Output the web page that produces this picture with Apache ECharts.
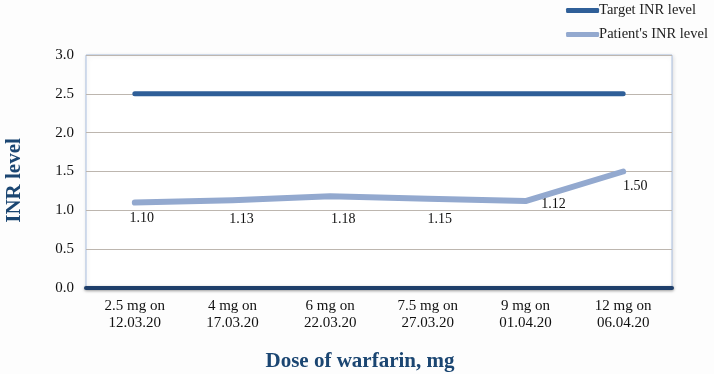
<!DOCTYPE html>
<html>
<head>
<meta charset="utf-8">
<script src="https://cdn.jsdelivr.net/npm/echarts@6/dist/echarts.min.js"></script>
<style>html,body{margin:0;padding:0;background:#fdfdfd}#c{width:714px;height:374px}</style>
</head>
<body>
<div id="c"></div>
<script>
const categories = ['2.5 mg on\n12.03.20','4 mg on\n17.03.20','6 mg on\n22.03.20','7.5 mg on\n27.03.20','9 mg on\n01.04.20','12 mg on\n06.04.20'];
const targetINR = [2.5, 2.5, 2.5, 2.5, 2.5, 2.5];
const patientINR = [1.10, 1.13, 1.18, 1.15, 1.12, 1.50];
const yTicks = [0, 0.5, 1.0, 1.5, 2.0, 2.5, 3.0];
const labelOffsets = [[7, 2], [9, 5], [13, 9], [12, 7], [28, -11], [12, 1]];

const serif = '"Liberation Serif", "DejaVu Serif", serif';
const chart = echarts.init(document.getElementById('c'));
chart.setOption({
  backgroundColor: '#fdfdfd',
  animation: false,
  textStyle: { fontFamily: serif },
  grid: { left: 86, right: 42, top: 55, bottom: 86, outerBoundsMode: 'none', containLabel: false,
    show: true, borderColor: '#a9bedf', borderWidth: 1, backgroundColor: '#ffffff',
    shadowColor: 'rgba(0,0,0,0.12)', shadowBlur: 4, shadowOffsetX: 1, shadowOffsetY: 1 },
  legend: {
    orient: 'vertical', right: 1, top: -2, itemGap: 9, itemWidth: 33, itemHeight: 5,
    icon: 'roundRect',
    textStyle: { fontFamily: serif, fontSize: 14.5, color: '#222', padding: [0, 0, 0, -5] },
    data: ['Target INR level', "Patient's INR level"]
  },
  xAxis: {
    type: 'category', data: categories, boundaryGap: true,
    name: 'Dose of warfarin, mg', nameLocation: 'middle', nameGap: 63,
    nameTextStyle: { fontFamily: serif, fontSize: 21, fontWeight: 'bold', color: '#1b4672', padding: [0, 38, 0, 0] },
    axisLine: { lineStyle: { color: '#1f3f6b', width: 4, shadowColor: 'rgba(0,0,0,0.35)', shadowBlur: 3, shadowOffsetY: 1 } },
    axisTick: { show: false },
    axisLabel: { fontFamily: serif, fontSize: 15, color: '#111', lineHeight: 17, margin: 10 }
  },
  yAxis: {
    type: 'value', min: 0, max: 3, interval: 0.5,
    name: 'INR level', nameLocation: 'middle', nameGap: 61, nameRotate: 90,
    nameTextStyle: { fontFamily: serif, fontSize: 21, fontWeight: 'bold', color: '#1b4672', padding: [0, 18, 0, 0] },
    axisLine: { show: false }, axisTick: { show: false },
    axisLabel: { fontFamily: serif, fontSize: 15, color: '#111', margin: 12,
      formatter: v => yTicks.indexOf(v) >= 0 ? v.toFixed(1) : '' },
    splitLine: { lineStyle: { color: '#bdb6af', width: 1 } }
  },
  series: [
    {
      name: 'Target INR level', type: 'line', data: targetINR, symbol: 'none',
      lineStyle: { color: '#2f5f98', width: 5, cap: 'round' },
      itemStyle: { color: '#2f5f98' }
    },
    {
      name: "Patient's INR level", type: 'line', data: patientINR.map((v, i) => ({
        value: v, label: { offset: labelOffsets[i] }
      })), symbol: 'circle', symbolSize: 2, showSymbol: true,
      lineStyle: { color: '#93a9cf', width: 6, cap: 'round', join: 'round' },
      itemStyle: { color: '#93a9cf' },
      label: { show: true, position: 'bottom', distance: 6, fontFamily: serif, fontSize: 14, color: '#111',
        formatter: p => p.value.toFixed(2) },
      z: 3
    }
  ]
});
</script>
</body>
</html>
